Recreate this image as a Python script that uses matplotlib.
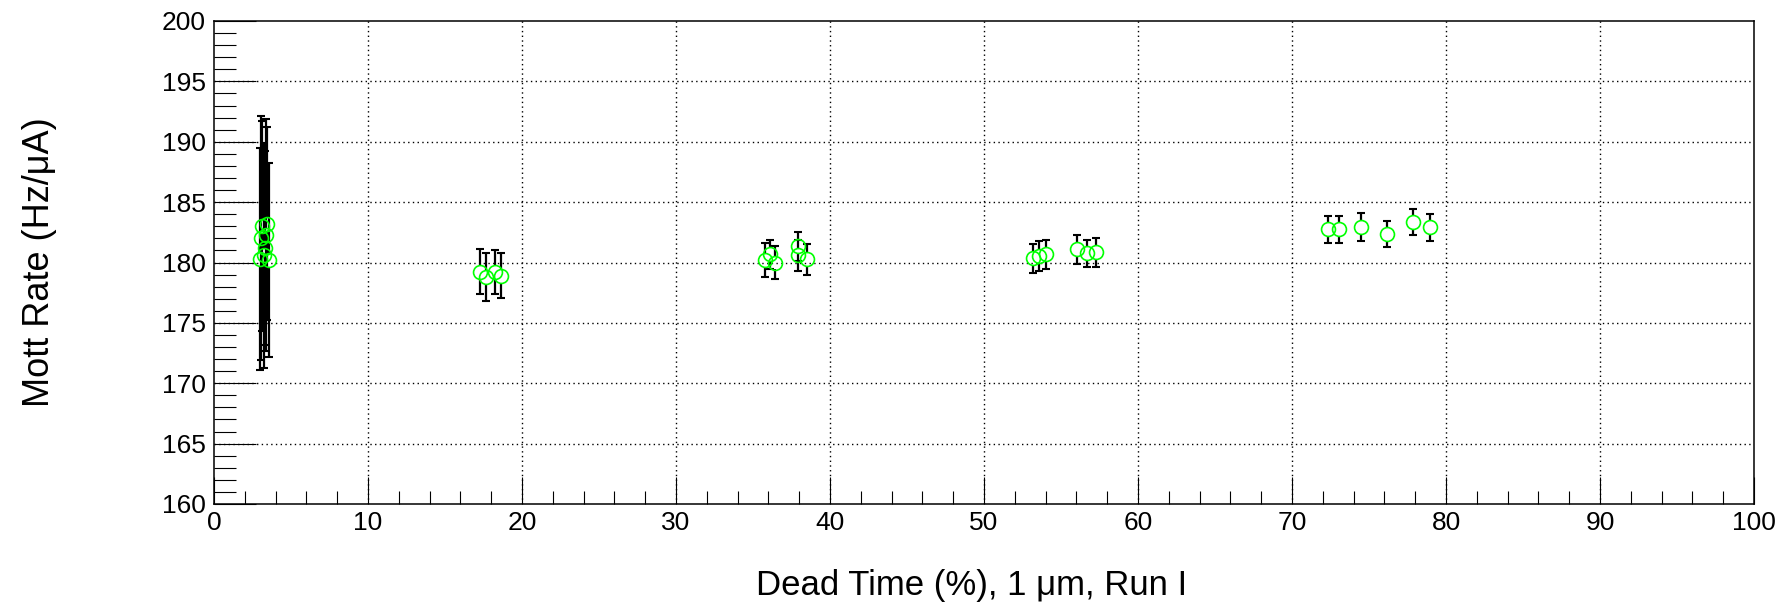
import numpy as np
import matplotlib.pyplot as plt

plt.rcParams["font.family"] = ["Liberation Sans", "DejaVu Sans"]

dead_time = [2.98, 3.06, 3.14, 3.22, 3.30, 3.38, 3.46, 3.55,
             17.3, 17.65, 18.25, 18.65,
             35.8, 36.1, 36.4, 37.9, 37.9, 38.5,
             53.2, 53.6, 54.0, 56.05, 56.7, 57.3,
             72.35, 73.05, 74.5, 76.15, 77.85, 78.95]
# Mott rate (Hz/uA)
mott_rate = [180.3, 182.0, 183.0, 180.6, 181.2, 182.3, 183.2, 180.2,
             179.25, 178.8, 179.2, 178.9,
             180.2, 180.7, 180.0, 181.35, 180.6, 180.25,
             180.35, 180.55, 180.7, 181.1, 180.75, 180.85,
             182.75, 182.75, 182.95, 182.35, 183.35, 182.9]
rate_err = [9.2, 10.1, 8.7, 9.3, 8.0, 9.6, 8.0, 8.0,
            1.85, 1.95, 1.8, 1.85,
            1.4, 1.2, 1.35, 1.2, 1.3, 1.25,
            1.2, 1.25, 1.2, 1.2, 1.15, 1.2,
            1.1, 1.1, 1.15, 1.06, 1.1, 1.1]

x = np.array(dead_time)
y = np.array(mott_rate)
e = np.array(rate_err)

fig = plt.figure(figsize=(17.85, 6.03), dpi=100)
ax = fig.add_axes([214 / 1785, 1 - 504 / 603, 1540 / 1785, 483 / 603])
ax.set_xlim(0, 100)
ax.set_ylim(160, 200)

# ROOT style: error bar stops at the edge of the open marker
ms = 10
gap = (ms / 2 * 100 / 72) * 40 / 483
ax.vlines(x, y + gap, y + e, color="black", lw=1.6, zorder=3)
ax.vlines(x, y - e, y - gap, color="black", lw=1.6, zorder=3)
ax.plot(x, y + e, ls="none", marker="_", ms=5.8, mew=1.5, color="black", zorder=3)
ax.plot(x, y - e, ls="none", marker="_", ms=5.8, mew=1.5, color="black", zorder=3)
ax.plot(x, y, ls="none", marker="o", ms=ms, mfc="none", mec="#00ff00", mew=1.2, zorder=4)

ax.set_xticks(np.arange(0, 101, 10))
ax.set_xticks(np.arange(0, 101, 2), minor=True)
ax.set_yticks(np.arange(160, 201, 5))
ax.set_yticks(np.arange(160, 201, 1), minor=True)

ax.tick_params(axis="both", which="both", direction="in", top=False, right=False,
               width=0.8, labelsize=19)
ax.tick_params(axis="x", which="major", length=19.5, pad=5)
ax.tick_params(axis="x", which="minor", length=9.5)
ax.tick_params(axis="y", which="major", length=30, pad=6)
ax.tick_params(axis="y", which="minor", length=16)

for v in range(10, 100, 10):
    ax.axvline(v, color="black", lw=1.0, ls=(0, (1, 2.4)), zorder=1)
for v in range(165, 200, 5):
    ax.axhline(v, color="black", lw=1.0, ls=(0, (1, 2.4)), zorder=1)

for s in ax.spines.values():
    s.set_linewidth(1.1)

ax.set_xlabel("Dead Time (%), 1 \u03bcm, Run I", fontsize=25)
ax.xaxis.set_label_coords(0.492, -0.135)
ax.set_ylabel("Mott Rate (Hz/\u03bcA)", fontsize=26)
ax.yaxis.set_label_coords(-0.102, 0.5)

fig.savefig("out.png", dpi=100)
